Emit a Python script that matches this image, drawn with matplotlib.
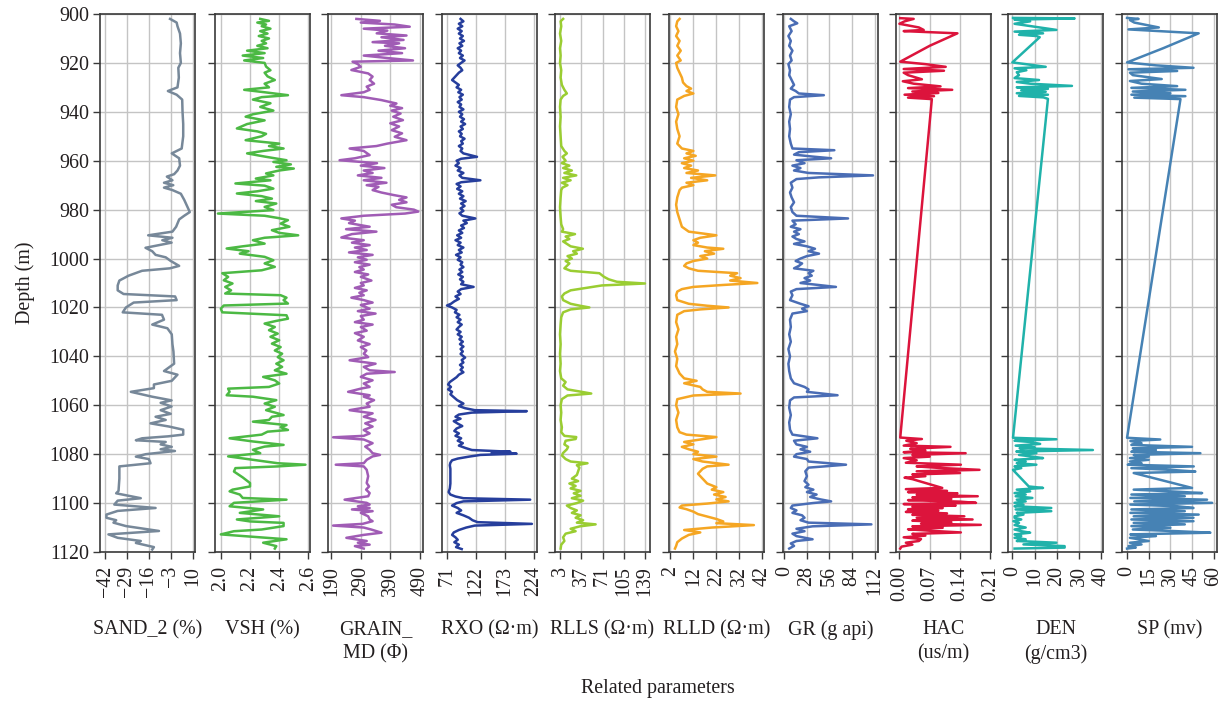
import matplotlib
matplotlib.use('Agg')
import matplotlib.pyplot as plt

plt.rcParams['font.family'] = ['Liberation Serif', 'DejaVu Serif']
plt.rcParams['font.size'] = 14.4
plt.rcParams['axes.unicode_minus'] = True

# ---------------- data ----------------
depth_ticks = [900, 920, 940, 960, 980, 1000, 1020, 1040, 1060, 1080, 1100, 1120]

sand_depth = [902, 903.5, 905, 908, 912, 916, 920, 922, 926, 930, 931.5, 933, 935, 940, 945, 950, 955, 957, 959, 962,
              964, 965.5, 966.5, 968, 969, 970, 971, 972, 973.5, 976, 979, 981, 982.5, 984, 987, 989, 990.5, 991.5,
              992.5, 993.5, 995.6, 997, 998.5, 999.5, 1001, 1003, 1004, 1005, 1007, 1009, 1011, 1013, 1014.5, 1015.5,
              1017, 1018, 1020, 1022, 1023, 1025, 1027, 1028.5, 1031, 1035, 1038, 1043, 1046, 1047.5, 1050, 1051.5,
              1053, 1054.5, 1056.5, 1058, 1059, 1060.5, 1062, 1063.5, 1064.7, 1066, 1067.4, 1068.7, 1070, 1072,
              1072.7, 1073.5, 1074.3, 1075, 1076, 1077, 1078, 1078.7, 1080, 1081, 1082, 1083.7, 1085, 1090, 1095,
              1096, 1098, 1099, 1100.6, 1102, 1103.2, 1104.7, 1106, 1107, 1108, 1109.4, 1111.4, 1112.8, 1114.2,
              1115.5, 1116.3, 1118, 1119]
sand_value = [-3.4, 0.5, 1, 2.5, 3, 2.5, 3, 1.5, 1.8, 1, -4.7, 0.5, 3.8, 4, 4.4, 4.4, 3.5, -2.4, 2, 2.5,
              1, -1, -5.3, -2, -7, -1.5, -7, -2, 3, 5, 7, 8.3, 5, 2, 0.2, -2, -16.4, -2,
              -8, -2.5, -18, -14, -12, -6, -3, 2, -3.5, -20, -28, -33.5, -34.5, -34.5, -31, -0.4,
              0.5, -25, -29.6, -31.5, -8.2, -7, -14, -5, -2.4, -2, -1.4, -1, -7, 1, -2.4, -13,
              -13, -26.7, -14, -2.5, -9, -2.5, -9, -3, -12, -6, -15, -4, 4.4, 4.4,
              -4.5, -20, -23.7, -6, -9, -2.4, -9, -0.5, -17.8, -23.7, -16, -15, -33.5, -33.5, -34,
              -35.4, -20.8, -34.5, -36.5, -12, -34.5, -41.2, -41.2, -35.4, -37, -29.6, -10, -40, -34.5,
              -20.8, -23.7, -13, -14]

vsh_depth = [902, 902.8, 903.5, 904.3, 905, 906, 907, 908, 909, 910, 911, 912, 913, 914, 915, 916, 917, 918, 919, 920,
             921.5, 923, 924, 925.5, 927, 928.5, 930, 931, 932, 933.2, 934, 935, 936.5, 938, 939.5, 941, 942, 943.5,
             945, 946.8, 948, 949, 950, 951.6, 953, 954, 955, 956, 957, 958.4, 959.8, 960.5, 961.5, 962.5, 963.2,
             964, 965.2, 966, 967.3, 968, 969.3, 970.2, 971.4, 972.5, 973.4, 974.5, 975.5, 976.5, 977.5, 978.9,
             980.2, 981.6, 982.5, 983.5, 984.3, 985.7, 987, 988.4, 989.5, 990.5, 991.5, 992.5, 993.9, 995, 995.9,
             997, 998, 999.3, 1000.7, 1002, 1003.4, 1004.8, 1006, 1007.5, 1008.9, 1010.2, 1011.6, 1013, 1014.3,
             1015, 1016, 1017, 1018.4, 1019.2, 1020.5, 1022, 1023.2, 1024.6, 1025.5, 1026.6, 1028, 1029.3, 1030.7,
             1032, 1033.4, 1034.8, 1036.2, 1037.6, 1038.9, 1040.3, 1041.6, 1043, 1044.3, 1045.7, 1047.1, 1048.4,
             1049.8, 1051.1, 1052.5, 1053.2, 1054.5, 1055.9, 1056.5, 1057.9, 1059.3, 1060.6, 1062, 1063.3, 1064,
             1064.7, 1066, 1066.7, 1068.1, 1069, 1070.1, 1070.8, 1072, 1073.5, 1074.8, 1076.2, 1076.9, 1078.2,
             1079.6, 1080.9, 1082.3, 1083.7, 1084.3, 1085, 1085.7, 1087.1, 1089.5, 1091.8, 1093.2, 1094.5, 1095.2,
             1096.5, 1097.9, 1098.6, 1099.9, 1101.3, 1102.6, 1104, 1105.4, 1106.7, 1107.5, 1108.1, 1109.4, 1110.8,
             1111.5, 1112.8, 1114.2, 1114.8, 1116.2, 1117.6, 1118.6]
vsh_value = [2.27, 2.33, 2.25, 2.31, 2.28, 2.34, 2.27, 2.32, 2.26, 2.33, 2.28, 2.31, 2.25, 2.32, 2.18, 2.30, 2.15, 2.29, 2.16, 2.30,
             2.31, 2.34, 2.30, 2.32, 2.37, 2.30, 2.33, 2.16, 2.30, 2.46, 2.28, 2.22, 2.34, 2.27, 2.36, 2.22, 2.17, 2.30,
             2.18, 2.11, 2.25, 2.31, 2.28, 2.17, 2.40, 2.33, 2.43, 2.29, 2.18, 2.31, 2.45, 2.36, 2.48, 2.38, 2.50,
             2.40, 2.31, 2.36, 2.24, 2.34, 2.10, 2.30, 2.36, 2.25, 2.11, 2.28, 2.35, 2.24, 2.38, 2.30,
             2.36, 1.98, 2.30, 2.40, 2.46, 2.41, 2.47, 2.35, 2.40, 2.53, 2.30, 2.22, 2.30, 2.15, 2.04,
             2.19, 2.13, 2.30, 2.36, 2.30, 2.37, 2.28, 2.01, 2.05, 2.02, 2.08, 2.03, 2.07, 2.03,
             2.41, 2.45, 2.43, 2.46, 2.02, 2.00, 2.01, 2.45, 2.46, 2.38, 2.30, 2.37, 2.33, 2.39,
             2.34, 2.40, 2.35, 2.41, 2.37, 2.42, 2.39, 2.43, 2.38, 2.42, 2.37, 2.45, 2.29,
             2.37, 2.40, 2.33, 2.05, 2.06, 2.04, 2.22, 2.38, 2.30, 2.37, 2.31, 2.39, 2.43,
             2.35, 2.33, 2.22, 2.45, 2.41, 2.46, 2.32, 2.28, 2.06, 2.22, 2.43, 2.30, 2.22,
             2.27, 2.05, 2.22, 2.39, 2.58, 2.39, 2.10, 2.09, 2.15, 2.20, 2.20, 2.08, 2.06,
             2.13, 2.15, 2.45, 2.09, 2.06, 2.29, 2.13, 2.40, 2.11, 2.20, 2.43, 2.43, 2.28,
             2.09, 2.00, 2.31, 2.45, 2.29, 2.38, 2.37]

grain_depth = [902, 902.8, 903.5, 904.3, 905.2, 906, 906.8, 907.9, 908.8, 909.5, 910.6, 911.5, 912, 913, 914, 915, 916,
               917, 918, 919, 919.5, 920.5, 921.6, 922.9, 924.3, 925.6, 927, 928.5, 929.7, 931, 932, 933.2, 934,
               935.2, 936.6, 937.5, 938.5, 939.5, 940.7, 942, 943.4, 944.7, 946, 947.5, 948.8, 950.2, 951.6, 953,
               954, 955, 956, 957.7, 959, 959.8, 961, 962, 963, 964, 965, 966, 967, 968, 969, 970, 970.7, 972, 973,
               974, 975, 976, 977, 978, 979, 980, 980.8, 981.6, 982.5, 983.6, 984.5, 985.5, 987, 988, 989, 990,
               991.4, 992.5, 993.5, 994.5, 995.5, 996.5, 997.5, 998.5, 999.5, 1000.5, 1001.5, 1002.5, 1003.5,
               1004.5, 1005.5, 1006.5, 1007.5, 1009, 1010, 1011, 1012, 1013, 1014, 1015, 1016, 1017, 1018, 1019,
               1020.5, 1021.5, 1022.5, 1023.5, 1025, 1026, 1027, 1028, 1029.5, 1030.5, 1032, 1033.5, 1035, 1036.2,
               1037.6, 1038.9, 1040.3, 1041.6, 1043, 1044.3, 1045.7, 1046.4, 1047.1, 1048.4, 1049.8, 1051.1,
               1052.5, 1053.2, 1054.5, 1055.9, 1056.5, 1057.9, 1059.3, 1060.6, 1062, 1063.3, 1064.7, 1066, 1067.4,
               1068.7, 1070.1, 1071.5, 1072.5, 1073.1, 1074, 1075.5, 1076.9, 1078.2, 1079.6, 1080.3, 1080.9,
               1082.3, 1083.7, 1084.3, 1085, 1086.4, 1089, 1091.8, 1093.2, 1094.5, 1095.9, 1097.2, 1098.6, 1099.9,
               1100.6, 1101.3, 1102, 1102.6, 1103.3, 1104, 1105.4, 1106.7, 1107.4, 1108.5, 1109.2, 1110, 1110.8,
               1112.1, 1113, 1114.2, 1115.5, 1116.2, 1117, 1117.6, 1118.6]
grain_value = [275, 355, 290, 405, 456, 300, 380, 344, 445, 360, 435, 330, 420, 372, 440, 350, 430,
               300, 380, 467, 262, 280, 290, 258, 315, 330, 320, 335, 310, 320, 300, 224, 300,
               360, 411, 390, 430, 395, 425, 400, 433, 390, 420, 395, 430, 405, 445, 380,
               343, 252, 300, 320, 270, 218, 345, 290, 370, 300, 330, 280, 360, 300, 377, 310, 350, 330, 360,
               400, 445, 420, 445, 395, 410, 470, 485, 440, 300, 224, 270, 250, 320, 240, 343, 260,
               224, 300, 260, 320, 270, 310, 250, 330, 280, 310, 270, 320, 285,
               300, 270, 315, 290, 326, 290, 300, 270, 310, 285, 300, 258, 300, 330, 290,
               320, 280, 340, 290, 300, 270, 330, 290, 310, 270, 300, 280, 320, 290,
               309, 300, 315, 252, 340, 300, 320, 405, 310, 290, 330, 300,
               320, 290, 247, 320, 300, 335, 310, 320, 252, 330, 300, 340, 305,
               330, 300, 320, 300, 196, 300, 330, 305, 320, 330, 355, 330,
               310, 300, 205, 300, 310, 315, 310, 318, 308, 320, 315, 235, 310,
               320, 280, 320, 260, 330, 290, 315, 320, 330, 296, 196, 300, 325,
               360, 300, 241, 310, 280, 320, 270, 300]

rxo_depth = [902, 903, 904, 905, 906, 907, 908, 909, 910, 911, 912, 913, 914, 915, 916, 917, 918, 919, 920, 921, 922,
             923, 924, 925, 926, 927, 928, 929, 930, 931, 932, 933, 934, 935, 936, 937, 938, 939, 940, 941, 942, 943,
             944, 945, 946, 947, 948, 949, 950, 951, 952, 953, 954, 955, 956, 957, 958.4, 959.2, 960, 961, 962, 963,
             964, 965, 966, 967, 968, 968.8, 969.5, 970.5, 971.5, 972.5, 973.5, 974.5, 975.5, 976.5, 977.5, 978.5,
             979.5, 980.5, 981.5, 982.5, 983.6, 984.5, 985.5, 986.5, 987.5, 988.5, 989.5, 990.5, 991.5, 992.5,
             993.5, 994.5, 995.5, 996.5, 997.5, 998.5, 999.5, 1000.5, 1001.5, 1002.5, 1003.5, 1004.5, 1005.5,
             1006.5, 1007.5, 1008.5, 1009.5, 1010.5, 1011.6, 1012.5, 1013.5, 1014.5, 1015.5, 1016.5, 1017.5,
             1018.5, 1019.2, 1020, 1021, 1022, 1023, 1024, 1025, 1026, 1027, 1028, 1029, 1030, 1031, 1032, 1033,
             1034, 1035, 1036, 1037, 1038, 1039, 1040.5, 1041.5, 1042.5, 1043.5, 1044.5, 1045.5, 1046.5, 1047.5,
             1048.5, 1049.5, 1050.5, 1051.5, 1052.5, 1053.5, 1054.5, 1055.5, 1056.5, 1057.9, 1059.3, 1060.3,
             1061.2, 1062, 1062.4, 1063, 1063.8, 1064.7, 1065.5, 1066.5, 1067.5, 1068.5, 1069.5, 1070.5, 1071.5,
             1072.5, 1073.5, 1074.5, 1075.5, 1076.5, 1077.5, 1078.3, 1079, 1079.4, 1079.8, 1080.3, 1081, 1081.8,
             1082.5, 1083.5, 1084.5, 1086, 1088, 1090, 1092, 1094, 1095.5, 1096.5, 1097.3, 1098, 1098.6, 1099.3,
             1100, 1101, 1102, 1103, 1104, 1105, 1106, 1107, 1107.8, 1108.5, 1109.2, 1110, 1111, 1112, 1113, 1114,
             1115, 1116, 1117, 1118, 1118.8]
rxo_value = [95, 100, 92, 98, 90, 97, 92, 99, 94, 101, 93, 98, 90, 96, 92, 99, 94, 102, 96, 90, 95,
             98, 92, 88, 84, 80, 86, 92, 88, 96, 91, 99, 93, 97, 90, 96, 93, 100, 92, 98, 94, 101,
             96, 103, 95, 99, 92, 97, 94, 102, 96, 99, 92, 98, 95, 100, 124, 96, 88, 92, 86, 95,
             90, 100, 93, 98, 130, 96, 88, 95, 89, 98, 92, 100, 94, 104, 96, 102,
             95, 100, 93, 98, 121, 100, 106, 96, 101, 92, 98, 89, 96, 86,
             95, 90, 100, 92, 97, 87, 95, 90, 98, 95, 100, 93, 98,
             91, 99, 94, 100, 96, 118, 96, 90, 95, 86, 92, 84,
             78, 71, 80, 88, 85, 93, 88, 95, 90, 97, 92, 88, 95, 90, 97, 93,
             99, 94, 100, 95, 99, 95, 103, 97, 100, 94, 99, 95, 100, 92,
             88, 82, 76, 73, 78, 73, 80, 77, 82, 89, 100, 92,
             103, 120, 212, 115, 92, 86, 95, 83, 90, 98, 88, 84, 92,
             86, 96, 90, 99, 92, 104, 115, 183, 150, 194, 130, 110, 90,
             80, 77, 76, 77, 77, 77, 77, 76, 74, 77, 86, 100, 218, 100,
             88, 80, 90, 96, 88, 100, 110, 116, 125, 221, 120, 105, 92, 83, 80, 86,
             90, 84, 92, 87, 97]

rlls_depth = [902, 903, 905, 908, 911, 914, 917, 920, 923, 926, 929, 931, 932.5, 933.5, 935, 938, 942, 946, 950, 954,
              956, 957, 958.4, 960, 961, 962, 963, 964, 965, 966, 967, 968, 969, 970, 971, 972, 975, 979, 983, 986,
              988, 989, 990, 991, 992, 993, 994, 995, 996, 997, 998, 999, 1000, 1001, 1002, 1003, 1004, 1005, 1006,
              1007.5, 1008.5, 1009.5, 1010.2, 1011, 1012, 1013, 1014.3, 1015.5, 1017, 1018.5, 1019.3, 1020, 1020.8,
              1022, 1024, 1027, 1031, 1035, 1039, 1043, 1046, 1049, 1050.5, 1052, 1053.5, 1055.2, 1056, 1057.5,
              1060, 1063, 1066, 1069, 1071, 1072.5, 1073, 1073.8, 1074.5, 1076, 1077, 1078, 1079.5, 1080.5, 1082,
              1083, 1083.7, 1084.5, 1085.5, 1087, 1088.5, 1090, 1091, 1092, 1093, 1094, 1095, 1096, 1097, 1098,
              1099, 1100, 1101, 1102, 1103, 1104, 1105, 1106, 1107, 1108, 1108.7, 1109.5, 1110.5, 1111.5, 1112.5,
              1114, 1115.5, 1117, 1118.6]
rlls_value = [8, 4, 5, 3, 5, 3, 4, 3, 5, 4, 6, 10, 14, 8, 4, 3, 4, 3, 4, 5,
              10, 14, 7, 12, 6, 18, 8, 22, 10, 29, 8, 20, 6, 15, 7, 5, 4, 3, 4, 5,
              8, 6, 27, 12, 18, 8, 14, 20, 39.6, 24, 30, 15, 22, 12, 18, 14, 10, 20, 66,
              73.6, 81, 94, 139, 70, 45, 20, 10, 6, 8, 20, 35, 50, 20,
              8, 5, 4, 3, 4, 3, 4, 3, 5, 12, 8, 15, 53, 15, 6,
              4, 5, 4, 6, 5, 10, 29, 28, 12, 10, 16, 14, 8, 6, 12,
              20, 47, 30, 34, 32, 30, 22, 32, 18, 28, 20, 36, 25, 36, 22,
              40, 30, 14, 20, 30, 22, 36, 28, 40, 30, 60, 35, 20, 28, 12,
              8, 10, 5, 4]

rlld_depth = [902, 903, 905, 907, 909, 911, 913, 915, 917, 919, 920, 922, 924, 926, 928, 929.5, 930.5, 931.5, 932.5,
              933.5, 935, 938, 941, 944, 947, 950, 953, 955, 956, 957, 958, 959, 960, 961, 962, 963, 964, 965, 966,
              967, 968, 969, 970, 971, 972, 975, 978, 981, 984, 987, 989, 990.5, 991.5, 992.5, 993.5, 994.5, 995.5,
              996, 997, 998, 999, 1000, 1001, 1002, 1003, 1004, 1005, 1006, 1007, 1008, 1009, 1010, 1010.8, 1011.6,
              1012.5, 1013.5, 1015, 1017, 1018.5, 1019.3, 1020, 1020.8, 1021.5, 1023, 1026, 1029, 1032, 1035, 1038,
              1041, 1044, 1047, 1049, 1050, 1051, 1052.5, 1053.5, 1054.5, 1055.2, 1056, 1057.5, 1060, 1063, 1066,
              1069, 1071, 1072, 1073, 1074, 1075, 1076, 1077, 1078, 1079, 1080, 1081, 1082, 1083, 1084.3, 1085,
              1086, 1088, 1090, 1092, 1093.5, 1094.5, 1095.5, 1096.5, 1097.5, 1098.5, 1099.3, 1100.2, 1101, 1101.8,
              1102.5, 1103.5, 1104.5, 1105.5, 1106.5, 1107.5, 1108.2, 1109, 1110, 1111, 1112, 1113, 1114.5, 1116,
              1117.5, 1118.6]
rlld_value = [6, 5, 4.5, 5.5, 4.5, 6, 5, 6.5, 5, 6.5, 4.5, 5, 6, 7, 7.5, 9, 11, 9, 12,
              8, 5, 4.5, 5.5, 4.5, 5, 6, 5, 7, 12, 9, 13, 8, 12, 7, 11, 8, 14, 9, 21.5,
              11, 18, 9, 12, 7, 6, 5, 4.5, 5, 6, 7, 10, 22, 15, 12, 14, 12, 18,
              25, 17, 21, 15, 18, 12, 9, 8, 10, 14, 31, 28, 32.5, 28, 39.8, 25, 12,
              7, 5, 4.5, 5, 10, 18, 27.3, 15, 8, 5, 4.5, 5.5, 4.5, 5, 4,
              5, 4.5, 6, 8, 13.4, 8, 15, 16, 18, 32.5, 12, 5, 4.5, 5.5, 4.5,
              5, 6, 9, 22, 15, 8, 12, 7, 10, 14, 12, 22, 12, 16, 27.3, 18,
              16, 14, 16, 18, 22, 20, 25, 21, 26, 22, 27.3, 18, 7, 6,
              9, 12, 14, 18, 22, 25, 22, 38.3, 20, 8, 15, 10, 7, 5,
              4.5, 4]

gr_depth = [902, 903, 903.8, 905, 907, 909, 911, 913, 915, 917, 919, 920.5, 923, 925, 927, 929, 930.5, 931.5, 932.5,
            933.2, 934, 935, 938, 941, 944, 947, 950, 953, 955, 955.7, 956.5, 957.5, 958.3, 959, 959.8, 961, 962,
            963, 964, 965, 966, 966.8, 967.5, 969, 971, 973, 975, 977, 979, 981, 982.5, 983.6, 984.5, 986, 987,
            988, 989, 990, 991, 992, 993, 994, 995, 996, 997, 998, 999, 1000, 1001, 1002, 1003, 1004, 1005, 1006,
            1007, 1008, 1009, 1010, 1011.6, 1012.5, 1013.5, 1015, 1017, 1018.5, 1019.5, 1020.5, 1021.5, 1022.5,
            1025, 1028, 1031, 1034, 1037, 1040, 1043, 1046, 1049, 1051, 1052.5, 1053.5, 1054.5, 1055.9, 1056.8,
            1058, 1061, 1064, 1067, 1070, 1072, 1073.5, 1074.5, 1076, 1077, 1078, 1079, 1080, 1081, 1082, 1083,
            1084.3, 1085.5, 1087, 1089, 1091, 1092.5, 1093.5, 1094.5, 1095.5, 1096.5, 1097.5, 1098.5, 1099.3, 1100,
            1101, 1102, 1103, 1104, 1105, 1106, 1107, 1108, 1108.7, 1109.5, 1110.5, 1111.5, 1112.5, 1113.5,
            1114.8, 1115.5, 1116.5, 1117.5, 1118.6]
gr_value = [8, 12, 16, 6, 9, 5, 8, 6, 10, 7, 9, 5, 7, 6, 9, 12, 8, 14, 18,
            49, 12, 7, 6, 8, 6, 7, 6, 8, 10, 62, 18, 12, 35, 58, 15, 25, 10,
            20, 12, 30, 110, 43, 15, 8, 10, 7, 9, 12, 8, 10, 15, 79, 10, 14, 8,
            20, 12, 18, 10, 15, 25, 12, 28, 38, 30, 43, 28, 20, 14, 22, 18, 12, 36, 30,
            34, 25, 32, 20, 64, 15, 8, 10, 7, 20, 30, 22, 28, 10,
            7, 8, 6, 8, 5, 7, 5, 6, 8, 12, 25, 30, 28, 66, 12,
            7, 6, 8, 6, 7, 10, 41, 12, 15, 28, 20, 32, 15, 12, 28, 30,
            76.5, 30, 26, 28, 25, 30, 26, 36, 28, 40, 32, 45, 58, 35,
            10, 8, 15, 10, 22, 25, 20, 30, 108, 35, 15, 25, 10, 15,
            35, 15, 8, 12, 6]

hac_depth = [901.7, 902, 903, 904, 905.5, 906.5, 907, 907.9, 913, 919.5, 920.5, 921.6, 922.5, 923.2, 924, 925, 926.7,
             927.5, 928.5, 929.6, 930.3, 931, 931.7, 932.3, 933, 933.6, 934.2, 934.8,
             1073.2, 1073.8, 1074.5, 1075.5, 1076.5, 1077, 1077.8, 1078.5, 1079.2, 1079.6, 1080.3, 1081, 1081.6,
             1082.5, 1083.5, 1084.3, 1085, 1085.6, 1086.4, 1087, 1087.7, 1088.3, 1089, 1089.6, 1090.2, 1093.8,
             1094.3, 1095, 1095.5, 1096, 1096.6, 1097.2, 1097.7, 1098.3, 1098.8, 1099.4, 1099.9, 1100.4, 1101,
             1101.5, 1102, 1102.5, 1103.1, 1103.6, 1104.2, 1104.8, 1105.4, 1106, 1106.7, 1107.2, 1107.8, 1108.4,
             1108.9, 1109.5, 1110.1, 1110.7, 1111.3, 1112, 1112.6, 1113.3, 1114, 1114.7, 1115.5, 1116.2, 1117,
             1117.8, 1118.6]
hac_value = [0.002, 0.033, 0.012, 0.0, 0.045, 0.056, 0.01, 0.134, 0.07, 0.002, 0.06, 0.107, 0.01, 0.103, 0.01, 0.02, 0.052,
             0.008, 0.033, 0.095, 0.02, 0.122, 0.03, 0.09, 0.012, 0.08, 0.02, 0.075,
             0.002, 0.052, 0.016, 0.04, 0.01, 0.118, 0.025, 0.06, 0.01, 0.153, 0.03, 0.07, 0.01,
             0.04, 0.015, 0.142, 0.04, 0.09, 0.185, 0.04, 0.14, 0.03, 0.06, 0.012, 0.03, 0.099,
             0.015, 0.11, 0.02, 0.134, 0.04, 0.181, 0.03, 0.12, 0.02, 0.14, 0.177, 0.01, 0.13,
             0.03, 0.1, 0.02, 0.09, 0.015, 0.11, 0.03, 0.15, 0.04, 0.169, 0.03, 0.12, 0.05,
             0.188, 0.03, 0.1, 0.02, 0.07, 0.142, 0.03, 0.06, 0.01, 0.05, 0.045, 0.015, 0.03,
             0.005, 0.002]

den_depth = [901.6, 901.8, 902.3, 903, 904, 906.5, 907.2, 907.9, 908.5, 909, 909.5, 919.8, 920.5, 921.6, 922.2, 923,
             923.8, 925, 926.2, 927, 927.8, 928.5, 929.4, 930, 930.6, 931.2, 931.8, 932.4, 933, 933.5, 934.1, 934.7,
             1073.3, 1073.9, 1074.5, 1075, 1075.8, 1076.5, 1077.2, 1077.6, 1078.3, 1078.9, 1079.6, 1080.3, 1081,
             1081.6, 1082.3, 1083, 1083.7, 1084.3, 1085, 1085.7, 1086.4, 1087.1, 1093.2, 1093.8, 1094.5, 1095.2,
             1095.9, 1096.5, 1097.2, 1097.9, 1098.6, 1099.3, 1099.9, 1100.6, 1101.3, 1102, 1102.6, 1103.3, 1104,
             1104.7, 1105.4, 1106, 1106.7, 1107.4, 1108.1, 1109, 1110, 1110.8, 1111.5, 1112.1, 1112.8, 1113.5,
             1114.2, 1114.8, 1115.5, 1116.2, 1116.9, 1117.6, 1118.2, 1118.6]
den_value = [0.3, 28, 1, 8, 1, 19.8, 1, 13.8, 3, 10.8, 12.3, 0, 6, 15, 1, 6.3,
             2, 3, 1, 12, 2, 8, 26.8, 2, 16, 4, 15, 2, 16, 3, 14, 16,
             0.3, 19.8, 1, 8, 12.5, 1.5, 10, 3.3, 36.2, 1.8, 10.8, 3, 9,
             13.8, 1, 6, 2, 10.8, 1, 4, 0.3, 1, 7.4, 13.8, 2, 8,
             1, 6, 1.5, 9, 2, 6, 1, 5, 1, 17.5, 1.5, 17.5, 2,
             5, 1, 1, 4, 0.5, 3, 1, 6, 1, 4, 8, 1, 4,
             1, 6, 2, 19.8, 5, 23.5, 23.5, 1]

sp_depth = [901.6, 902, 902.5, 903.5, 905.5, 906.3, 907.9, 914, 919.8, 921, 922, 922.6, 923.3, 924, 925, 926.6, 927.4,
            928.5, 929.5, 930.2, 931, 931.7, 932.4, 933, 933.6, 934.2, 934.8,
            1073.3, 1074, 1074.6, 1075.5, 1076.2, 1077, 1077.6, 1078.3, 1079, 1079.6, 1080.3, 1081, 1081.6, 1082.3,
            1083, 1083.7, 1084.3, 1085, 1085.7, 1086.4, 1087.1, 1087.7, 1093.8, 1094.5, 1095.2, 1095.9, 1096.5,
            1097.2, 1097.9, 1098.6, 1099.3, 1099.9, 1100.6, 1101.3, 1102, 1102.6, 1103.3, 1104, 1104.7, 1105.4,
            1106, 1106.7, 1107.4, 1108.1, 1108.7, 1109.4, 1110.1, 1110.8, 1111.5, 1112.1, 1112.8, 1113.5, 1114.2,
            1115.5, 1116.2, 1116.9, 1117.6, 1118.2, 1118.6]
sp_value = [0, 8, 2, 5, 22, 1, 49.6, 25, 0, 20, 46, 1, 34.7, 2, 4, 24, 2,
            10, 34.7, 3, 40.4, 4, 30, 3, 40.4, 5, 37,
            0, 23, 2.3, 10, 3, 45, 4, 20, 3, 50.8, 4.6, 15, 2, 15,
            2, 10, 0.5, 46.2, 3, 30, 47.3, 4.6, 45, 4.6, 30, 52, 3,
            40, 2.3, 55.4, 5, 58.9, 2.3, 35, 46, 3, 40, 2.3, 49.6, 4.6,
            46, 3, 46, 4.6, 40, 3, 30, 4, 35, 57.7, 2.3, 20, 2,
            15, 2, 10, 1, 6, 0]

sand_ticks = [-42, -29, -16, -3, 10]
vsh_ticks = [2.0, 2.2, 2.4, 2.6]
grain_ticks = [190, 290, 390, 490]
rxo_ticks = [71, 122, 173, 224]
rlls_ticks = [3, 37, 71, 105, 139]
rlld_ticks = [2, 12, 22, 32, 42]
gr_ticks = [0, 28, 56, 84, 112]
hac_ticks = [0.00, 0.07, 0.14, 0.21]
den_ticks = [0, 10, 20, 30, 40]
sp_ticks = [0, 15, 30, 45, 60]

labels = ['SAND_2 (%)', 'VSH (%)', 'GRAIN_\nMD (Φ)', 'RXO (Ω·m)', 'RLLS (Ω·m)',
          'RLLD (Ω·m)', 'GR (g api)', 'HAC\n(us/m)', 'DEN\n(g/cm3)', 'SP (mv)']

# ---------------- styling / layout ----------------
panels = [
    (sand_depth, sand_value, sand_ticks, '{:.0f}', (-45.0, 11.4), '#778899'),
    (vsh_depth, vsh_value, vsh_ticks, '{:.1f}', (1.96, 2.611), '#4CB944'),
    (grain_depth, grain_value, grain_ticks, '{:.0f}', (178.7, 501), '#A05CB5'),
    (rxo_depth, rxo_value, rxo_ticks, '{:.0f}', (62.2, 230), '#263E9C'),
    (rlls_depth, rlls_value, rlls_ticks, '{:.0f}', (-5, 147), '#9ACD32'),
    (rlld_depth, rlld_value, rlld_ticks, '{:.0f}', (1.4, 42.7), '#F5A623'),
    (gr_depth, gr_value, gr_ticks, '{:.0f}', (-1.7, 116.2), '#4A6DB5'),
    (hac_depth, hac_value, hac_ticks, '{:.2f}', (-0.0078, 0.2116), '#DC143C'),
    (den_depth, den_value, den_ticks, '{:.0f}', (-1.95, 40.75), '#20B2AA'),
    (sp_depth, sp_value, sp_ticks, '{:.0f}', (-3.5, 62.3), '#4682B4'),
]

W, H = 1224, 701
fig = plt.figure(figsize=(W / 100, H / 100), dpi=100)
lefts_px = [100, 215, 328, 442, 555, 669, 783, 896, 1008, 1122]
width_px = 95
top_px, bottom_px = 14, 552

text_color = '#231f20'
for i, (dep, val, ticks, fmt, xlim, color) in enumerate(panels):
    ax = fig.add_axes([lefts_px[i] / W, 1 - bottom_px / H, width_px / W, (bottom_px - top_px) / H])
    ax.plot(val, dep, color=color, lw=1.8, zorder=3)
    ax.set_ylim(1120, 900)
    ax.set_xlim(*xlim)
    ax.set_yticks(depth_ticks)
    ax.set_xticks(ticks)
    ax.set_xticklabels([fmt.format(t).replace('-', '\u2212') for t in ticks], rotation=90,
                       color=text_color)
    ax.grid(True, color='#c4c4c4', lw=1.0)
    ax.set_axisbelow(True)
    for sp in ax.spines.values():
        sp.set_color('#3a3a3a')
        sp.set_linewidth(1.2)
    ax.tick_params(axis='both', direction='out', length=5, width=1.0, color='#3a3a3a',
                   labelsize=14.4, pad=3)
    ax.tick_params(axis='x', pad=5)
    if i == 0:
        ax.set_yticklabels([str(d) for d in depth_ticks], color=text_color)
    else:
        ax.set_yticklabels([])
    cx = (lefts_px[i] + width_px / 2) / W
    fig.text(cx, 1 - 620 / H, labels[i], ha='center', va='top', fontsize=14.4,
             linespacing=1.35, color=text_color)

fig.text(25 / W, 1 - 283 / H, 'Depth (m)', rotation=90, ha='center', va='center',
         fontsize=14.4, color=text_color)
fig.text(658 / W, 1 - 688 / H, 'Related parameters', ha='center', va='center',
         fontsize=14.4, color=text_color)

fig.savefig('out.png', dpi=100)
